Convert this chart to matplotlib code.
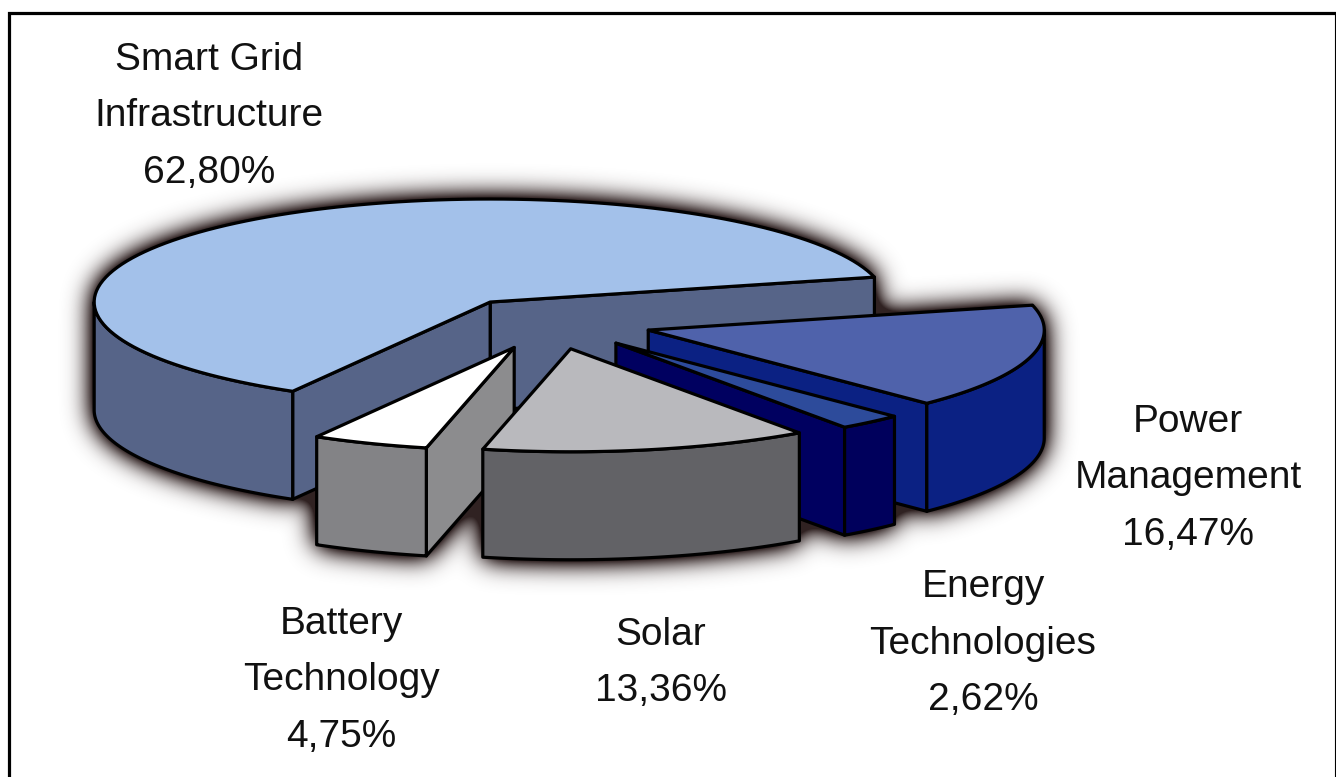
import matplotlib
matplotlib.use('Agg')
import matplotlib.pyplot as plt
import numpy as np
from matplotlib.backends.backend_agg import FigureCanvasAgg
from matplotlib.figure import Figure

plt.rcParams['font.family'] = ['Liberation Sans', 'DejaVu Sans']

# data, counter clockwise from the start angle
labels = ['Smart Grid\nInfrastructure', 'Battery\nTechnology', 'Solar', 'Energy\nTechnologies', 'Power\nManagement']
values = [62.80, 4.75, 13.36, 2.62, 16.47]
top_colors = ['#a3c1ea', '#ffffff', '#b9b9bd', '#2d4b9b', '#4f62ab']
side_colors = ['#566488', '#838386', '#626266', '#00005c', '#0b2183']
cut_colors = ['#566488', '#8c8c8e', '#626266', '#000060', '#0b2183']

W, H = 1336, 777
CX, CY = 551, 323
RX, RY = 396, 103
DEPTH = 108
EXPLODE = 0.255
START = 14.0

# x centre and first baseline of each label
label_pos = [(209, 70), (341, 634), (661, 645), (983, 597), (1188, 432)]
LINE_STEP = 56.5


def ell(cx, cy, a):
    a = np.radians(a)
    return cx + RX * np.cos(a), cy - RY * np.sin(a)


def arc(cx, cy, a1, a2):
    t = np.linspace(a1, a2, 120)
    x, y = ell(cx, cy, t)
    return np.column_stack([x, y])


def slice_faces(a1, a2):
    # faces of one slice in paint order, each as (polygon, kind)
    mid = (a1 + a2) / 2
    cx, cy = ell(CX, CY, mid)
    cx = CX + (cx - CX) * EXPLODE
    cy = CY + (cy - CY) * EXPLODE
    down = np.array([0, DEPTH])
    apex = np.array([cx, cy])
    faces = []
    for a, normal in ((a1, a1 - 90), (a2, a2 + 90)):
        if np.sin(np.radians(normal)) < 0:
            p = np.array(ell(cx, cy, a))
            faces.append((np.array([apex, p, p + down, apex + down]), 'cut'))
    lo, hi = max(a1, 180), min(a2, 360)
    if hi > lo:
        rim = arc(cx, cy, lo, hi)
        faces.append((np.vstack([rim, (rim + down)[::-1]]), 'side'))
    faces.append((np.vstack([apex, arc(cx, cy, a1, a2)]), 'top'))
    return faces


def blur(img, sigma):
    r = int(sigma * 3)
    k = np.exp(-np.arange(-r, r + 1) ** 2 / (2 * sigma ** 2))
    k = k / k.sum()
    img = np.apply_along_axis(lambda c: np.convolve(c, k, mode='same'), 0, img)
    img = np.apply_along_axis(lambda c: np.convolve(c, k, mode='same'), 1, img)
    return img


def main():
    spans = np.array(values) / sum(values) * 360
    starts = START + np.concatenate([[0], np.cumsum(spans)[:-1]])
    faces = [slice_faces(s, s + d) for s, d in zip(starts, spans)]

    # soft dark halo round the whole pie
    mfig = Figure(figsize=(W / 100, H / 100), dpi=100)
    FigureCanvasAgg(mfig)
    max_ = mfig.add_axes([0, 0, 1, 1])
    max_.set_xlim(0, W)
    max_.set_ylim(H, 0)
    max_.axis('off')
    for fs in faces:
        for poly, kind in fs:
            max_.fill(poly[:, 0], poly[:, 1], color='k', lw=0)
    mfig.canvas.draw()
    mask = 1 - np.asarray(mfig.canvas.buffer_rgba())[:, :, 0] / 255.0
    halo = np.clip(blur(mask, 13) * 2.2, 0, 1)
    rgba = np.zeros((H, W, 4))
    rgba[:, :, :3] = np.array([0x30, 0x22, 0x22]) / 255
    rgba[:, :, 3] = halo

    fig = plt.figure(figsize=(W / 100, H / 100), dpi=100)
    ax = fig.add_axes([0, 0, 1, 1])
    ax.imshow(rgba, extent=(0, W, H, 0), aspect='auto', interpolation='bilinear')
    ax.set_xlim(0, W)
    ax.set_ylim(H, 0)
    ax.axis('off')

    # paint order: back slices first, solar sits in front of battery
    for i in [0, 4, 3, 1, 2]:
        for poly, kind in faces[i]:
            col = {'top': top_colors[i], 'side': side_colors[i], 'cut': cut_colors[i]}[kind]
            ax.fill(poly[:, 0], poly[:, 1], facecolor=col, edgecolor='black', lw=2.3, joinstyle='round')

    for lab, v, (x, y) in zip(labels, values, label_pos):
        lines = lab.split('\n') + [f'{v:.2f}%'.replace('.', ',')]
        for j, line in enumerate(lines):
            ax.text(x, y + j * LINE_STEP, line, ha='center', va='baseline', fontsize=28, color='#111111')

    # frame, heavy on the top and left, hairline on the right
    ax.plot([8.5, 8.5, 1335], [H + 5, 12.5, 12.5], color='black', lw=2.3, solid_joinstyle='miter')
    ax.plot([1335, 1335], [12.5, H + 5], color='black', lw=0.8)

    fig.savefig('out.png', dpi=100)


if __name__ == "__main__":
    main()
